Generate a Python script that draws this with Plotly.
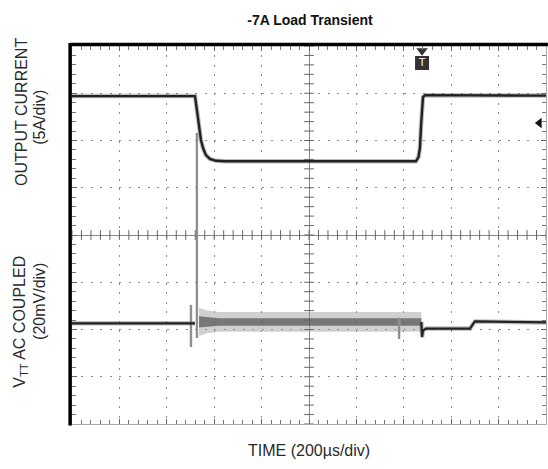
import numpy as np
import plotly.graph_objects as go

# ---- data (time in µs relative to screen centre, amplitude in divisions) ----
iout_t = [-1000, -481, -473, -464, -456, -447, -435, -418, -392, -354,
          451, 462, 468, 473, 477, 481, 490, 1000]
iout_y = [2.94, 2.94, 2.65, 2.26, 2.01, 1.84, 1.69, 1.61, 1.57, 1.56,
          1.56, 1.65, 1.84, 2.33, 2.75, 2.92, 2.96, 2.95]

vtt_pre_t = [-1000, -481]
vtt_pre_y = [-1.87, -1.87]

vtt_post_t = [474, 477, 481, 494, 679, 700, 1000]
vtt_post_y = [-1.84, -2.16, -2.02, -1.98, -1.98, -1.83, -1.85]

noise_t = [-464, -430, -380, 474]
noise_mid = [-1.84, -1.84, -1.84, -1.84]
noise_outer = [0.30, 0.24, 0.21, 0.21]
noise_core = [0.12, 0.10, 0.08, 0.08]

spike_t = [-498, -473, 380]
spike_lo = [-2.37, -2.18, -2.20]
spike_hi = [-1.48, 2.16, -1.75]

trig_t = 477
ref_arrow_y = 2.37

fig = go.Figure()

def band(half, color):
    up = [m + o for m, o in zip(noise_mid, half)]
    lo = [m - o for m, o in zip(noise_mid, half)]
    fig.add_trace(go.Scatter(x=noise_t + noise_t[::-1], y=up + lo[::-1], mode="lines",
                             fill="toself", fillcolor=color, line=dict(width=0),
                             hoverinfo="skip", showlegend=False))

band(noise_outer, "rgba(150,150,150,0.45)")
band(noise_core, "rgba(60,60,60,0.6)")

# spikes
sx, sy = [], []
for t, a, b in zip(spike_t, spike_lo, spike_hi):
    sx += [t, t, None]
    sy += [a, b, None]
fig.add_trace(go.Scatter(x=sx, y=sy, mode="lines", line=dict(color="#a5a5a5", width=2.5),
                         hoverinfo="skip", showlegend=False))
fig.add_trace(go.Scatter(x=sx, y=sy, mode="lines", line=dict(color="#7a7a7a", width=1),
                         hoverinfo="skip", showlegend=False))

# quiet V_TT pieces
for tt, yy in ((vtt_pre_t, vtt_pre_y), (vtt_post_t, vtt_post_y)):
    fig.add_trace(go.Scatter(x=tt, y=yy, mode="lines", line=dict(color="rgba(110,110,110,0.45)", width=4.5),
                             hoverinfo="skip", showlegend=False))
    fig.add_trace(go.Scatter(x=tt, y=yy, mode="lines", line=dict(color="#222", width=2.2),
                             hoverinfo="skip", showlegend=False))

# output current trace
fig.add_trace(go.Scatter(x=iout_t, y=iout_y, mode="lines", line=dict(color="rgba(110,110,110,0.45)", width=4.5),
                         hoverinfo="skip", showlegend=False))
fig.add_trace(go.Scatter(x=iout_t, y=iout_y, mode="lines", line=dict(color="#222", width=2.4),
                         hoverinfo="skip", showlegend=False))

# crosshair minor ticks
ht = np.arange(-1000, 1000.1, 40)
fig.add_trace(go.Scatter(x=ht, y=[0] * len(ht), mode="markers",
                         marker=dict(symbol="line-ns-open", size=7, color="#666",
                                     line=dict(color="#666", width=1)),
                         hoverinfo="skip", showlegend=False))
vt = np.arange(-4, 4.01, 0.2)
fig.add_trace(go.Scatter(x=[0] * len(vt), y=vt, mode="markers",
                         marker=dict(symbol="line-ew-open", size=7, color="#666",
                                     line=dict(color="#666", width=1)),
                         hoverinfo="skip", showlegend=False))

# trigger marker and reference arrow
fig.add_trace(go.Scatter(x=[trig_t], y=[3.9], mode="markers",
                         marker=dict(symbol="triangle-down", size=10, color="#333"),
                         hoverinfo="skip", showlegend=False))
fig.add_trace(go.Scatter(x=[trig_t], y=[3.64], mode="markers+text", text=["T"],
                         textfont=dict(color="white", size=11, family="Liberation Sans"),
                         textposition="middle center",
                         marker=dict(symbol="square", size=14, color="#333"),
                         hoverinfo="skip", showlegend=False))
fig.add_trace(go.Scatter(x=[972], y=[ref_arrow_y], mode="markers",
                         marker=dict(symbol="triangle-left", size=9, color="#111"),
                         hoverinfo="skip", showlegend=False))

grid_dash = "2px,7.48px"
fig.update_xaxes(range=[-1000, 1000], dtick=200, tick0=0, showticklabels=False,
                 showgrid=True, gridcolor="#8a8a8a", gridwidth=1.3, griddash=grid_dash,
                 zeroline=True, zerolinecolor="#888", zerolinewidth=1,
                 showline=True, linecolor="#aaa", linewidth=1, mirror="ticks",
                 ticks="inside", ticklen=5, tickcolor="#666",
                 minor=dict(dtick=40, ticks="inside", ticklen=4, tickcolor="#777", showgrid=False),
                 fixedrange=True)
fig.update_yaxes(range=[-4, 4], dtick=1, tick0=0, showticklabels=False,
                 showgrid=True, gridcolor="#8a8a8a", gridwidth=1.3, griddash=grid_dash,
                 zeroline=True, zerolinecolor="#888", zerolinewidth=1,
                 showline=True, linecolor="#aaa", linewidth=1, mirror="ticks",
                 ticks="inside", ticklen=5, tickcolor="#666",
                 minor=dict(dtick=0.2, ticks="inside", ticklen=4, tickcolor="#777", showgrid=False),
                 fixedrange=True)

# thick top / left frame
fig.add_shape(type="line", xref="paper", yref="paper", x0=-0.004, x1=1.004, y0=1.004, y1=1.004,
              line=dict(color="black", width=3.5))
fig.add_shape(type="line", xref="paper", yref="paper", x0=-0.004, x1=-0.004, y0=-0.004, y1=1.008,
              line=dict(color="black", width=3.5))

lab_font = dict(family="Liberation Sans, Arial, sans-serif", size=16, color="#2a2a2a")
ann = [
    dict(text="OUTPUT CURRENT", x=-0.108, y=0.825),
    dict(text="(5A/div)", x=-0.0675, y=0.810),
    dict(text="V<sub>TT</sub> AC COUPLED", x=-0.108, y=0.27),
    dict(text="(20mV/div)", x=-0.0675, y=0.323),
]
for a in ann:
    fig.add_annotation(text=a["text"], x=a["x"], y=a["y"], xref="paper", yref="paper",
                       textangle=-90, showarrow=False, font=lab_font,
                       xanchor="center", yanchor="middle")
fig.add_annotation(text="TIME (200µs/div)", x=0.5, y=-0.0714, xref="paper", yref="paper",
                   showarrow=False, font=dict(family="Liberation Sans, Arial, sans-serif", size=16, color="#2a2a2a"),
                   xanchor="center", yanchor="middle")

fig.update_layout(
    width=548, height=469,
    margin=dict(l=72, r=2, t=46, b=45),
    paper_bgcolor="white", plot_bgcolor="white",
    title=dict(text="<b>-7A Load Transient</b>", x=(310) / 548, xanchor="center",
               y=1 - 20 / 469, yanchor="middle", yref="container",
               font=dict(family="Liberation Sans, Arial, sans-serif", size=14, color="#111")),
    showlegend=False,
)

fig.write_html("out.html")
